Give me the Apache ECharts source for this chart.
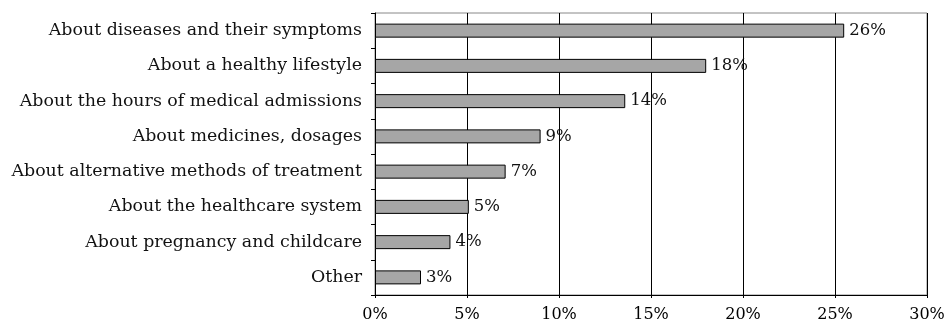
<!DOCTYPE html>
<html><head><meta charset="utf-8">
<script src="https://cdn.jsdelivr.net/npm/echarts@6/dist/echarts.min.js"></script>
<style>html,body{margin:0;padding:0;background:#fff}#c{width:948px;height:323px}</style>
</head><body><div id="c"></div>
<script>
const categories = [
  "About diseases and their symptoms",
  "About a healthy lifestyle",
  "About the hours of medical admissions",
  "About medicines, dosages",
  "About alternative methods of treatment",
  "About the healthcare system",
  "About pregnancy and childcare",
  "Other"
];
const values = [25.5, 18.0, 13.6, 9.0, 7.1, 5.1, 4.1, 2.5];
const valueLabels = ["26%", "18%", "14%", "9%", "7%", "5%", "4%", "3%"];
const tickLabels = ["0%", "5%", "10%", "15%", "20%", "25%", "30%"];

const font = "'DejaVu Serif', serif";
const chart = echarts.init(document.getElementById('c'));
chart.setOption({
  animation: false,
  grid: { left: 375, right: 21, top: 13, bottom: 27.5, show: true, borderColor: '#888', borderWidth: 1 },
  xAxis: {
    type: 'value', min: 0, max: 30, interval: 5,
    axisLine: { show: true, lineStyle: { color: '#000', width: 1 } },
    axisTick: { show: true, length: 3, lineStyle: { color: '#000' } },
    axisLabel: { fontFamily: font, fontSize: 16, color: '#000', margin: 12,
      formatter: v => tickLabels[Math.round(v / 5)] },
    splitLine: { show: true, lineStyle: { color: '#000', width: 1 } }
  },
  yAxis: {
    type: 'category', data: categories, inverse: true,
    axisLine: { show: true, lineStyle: { color: '#000', width: 1 } },
    axisTick: { show: true, length: 4, alignWithLabel: false, lineStyle: { color: '#000' } },
    axisLabel: { fontFamily: font, fontSize: 17.4, color: '#111', margin: 13 }
  },
  series: [{
    type: 'bar', data: values, barWidth: 14,
    itemStyle: { color: '#a6a6a6', borderColor: '#000', borderWidth: 1 },
    label: { show: true, position: 'right', distance: 5, fontFamily: font, fontSize: 16.5, color: '#111',
      formatter: p => valueLabels[p.dataIndex] }
  }]
});
</script></body></html>
